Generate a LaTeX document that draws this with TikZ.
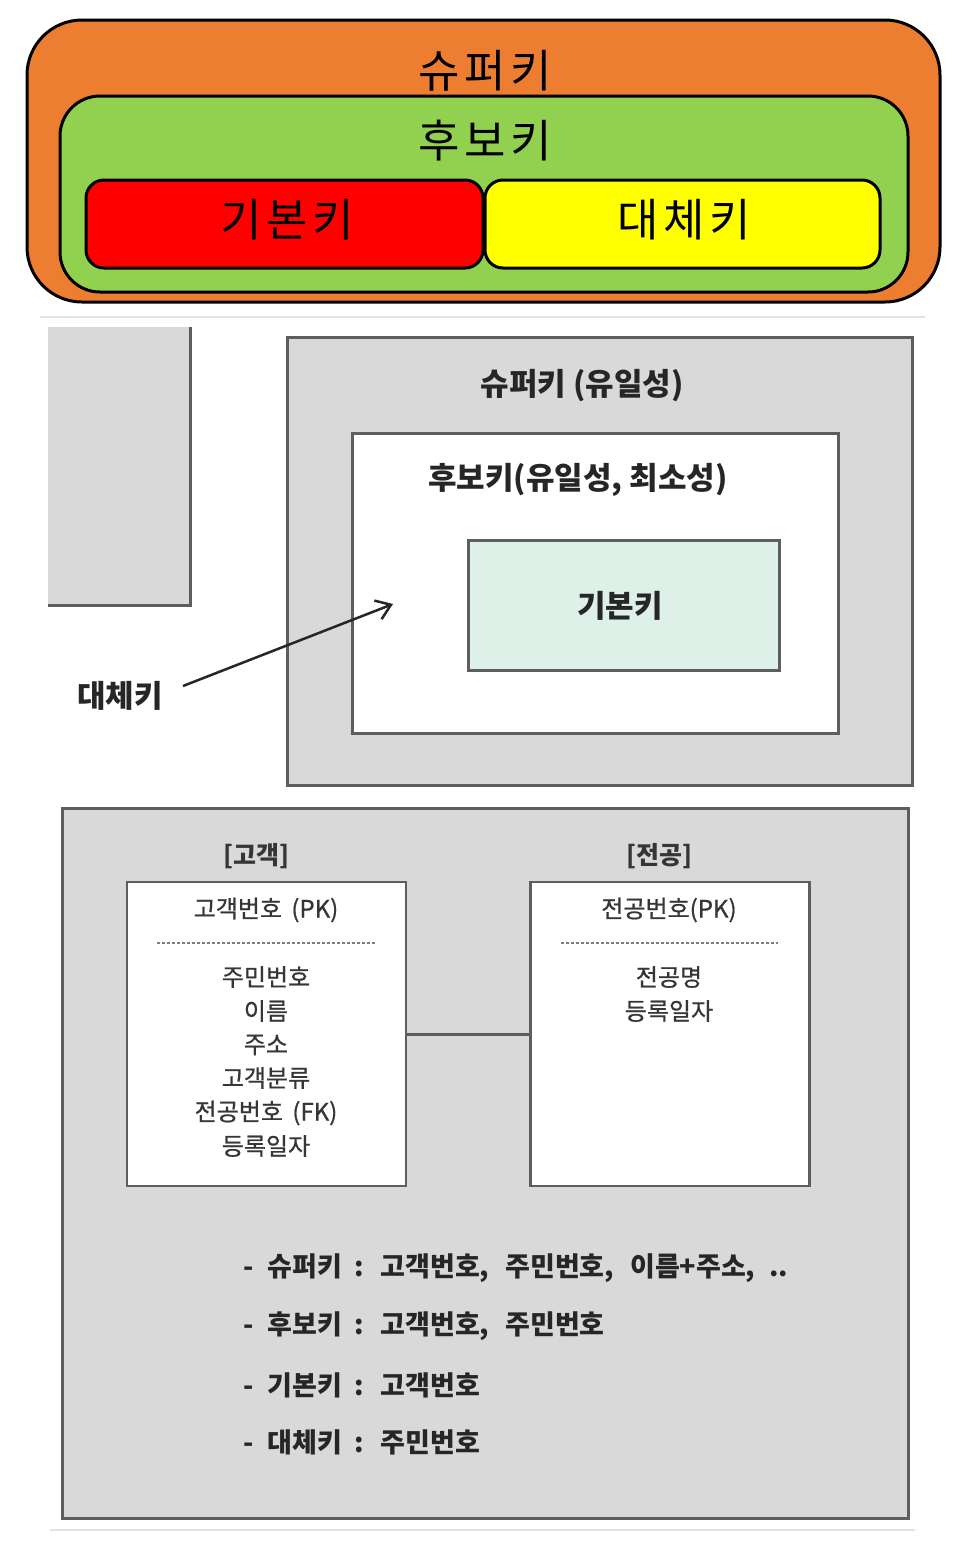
\documentclass[tikz,border=0pt]{standalone}
\usepackage{fontspec}
\setmainfont{Noto Sans CJK KR}
\usetikzlibrary{arrows.meta}
\definecolor{korange}{HTML}{ED7D31}
\definecolor{kgreen}{HTML}{92D050}
\definecolor{kred}{HTML}{FF0000}
\definecolor{kyellow}{HTML}{FFFF00}
\definecolor{kgray}{HTML}{D9D9D9}
\definecolor{kborder}{HTML}{5E5E5E}
\definecolor{kmint}{HTML}{DDF1E8}
\definecolor{ktext}{HTML}{262626}
\definecolor{ktab}{HTML}{363636}
\definecolor{ksep}{HTML}{E2E2E2}
\begin{document}
\begin{tikzpicture}[x=1pt,y=-1pt,
  setbox/.style={draw=black,line width=3pt,inner sep=0pt},
  bigtxt/.style={font=\fontsize{45}{48}\selectfont\addfontfeature{LetterSpace=10},text=black,inner sep=0pt},
  graybox/.style={draw=kborder,line width=3pt,fill=kgray,inner sep=0pt},
  whitebox/.style={draw=kborder,line width=3pt,fill=white,inner sep=0pt},
  midtxt/.style={font=\fontsize{31}{34}\selectfont\bfseries,text=ktext,inner sep=0pt},
  tabbox/.style={draw=kborder,line width=2.5pt,fill=white,inner sep=0pt,minimum width=279pt,minimum height=304pt},
  tabtxt/.style={font=\fontsize{24}{26}\selectfont\addfontfeature{FakeBold=0.8},text=ktab,inner sep=0pt},
  listtxt/.style={font=\fontsize{27}{30}\selectfont\bfseries,text=ktext,inner sep=0pt,anchor=west},
  sepline/.style={draw=ksep,line width=2pt},
  dashsep/.style={draw=kborder!80,line width=2.5pt,dash pattern=on 3pt off 2pt}
]
\useasboundingbox (0,0) rectangle (966,1556);
\fill[white] (0,0) rectangle (966,1556);

% ---------- top set diagram ----------
\node[setbox,fill=korange,rounded corners=55pt,minimum width=913pt,minimum height=282pt] (super) at (483.5,161) {};
\node[setbox,fill=kgreen,rounded corners=40pt,minimum width=848pt,minimum height=196pt] (cand) at (484,194) {};
\node[setbox,fill=kred,rounded corners=18pt,minimum width=397pt,minimum height=88pt] (prim) at (284.5,224) {};
\node[setbox,fill=kyellow,rounded corners=18pt,minimum width=395pt,minimum height=88pt] (alt) at (682.5,224) {};
\node[bigtxt] (tsuper) at (485,71) {슈퍼키};
\node[bigtxt] (tcand) at (485,141) {후보키};
\node[bigtxt] (tprim) at (287,220) {기본키};
\node[bigtxt] (talt) at (684,220) {대체키};

\draw[sepline] (40,317) -- (925,317);

% ---------- middle nested boxes ----------
\fill[kgray] (48,327) rectangle (190,605);
\draw[kborder,line width=3pt] (190,327) -- (190,605) -- (48,605);

\node[graybox,minimum width=625pt,minimum height=448pt] (msuper) at (599.5,561) {};
\node[whitebox,minimum width=486pt,minimum height=300pt] (mcand) at (595,583) {};
\node[draw=kborder,line width=3pt,fill=kmint,inner sep=0pt,minimum width=311pt,minimum height=130pt] (mprim) at (623.5,605) {};
\node[midtxt] (lsuper) at (582,386) {슈퍼키 (유일성)};
\node[midtxt] (lcand) at (578,480) {후보키(유일성, 최소성)};
\node[midtxt] (lprim) at (620,606) {기본키};
\node[midtxt] (lalt) at (120,696) {대체키};
\coordinate (arrs) at (183,686);
\coordinate (arre) at (393,604);
\draw[draw=ktext,line width=2.5pt,-{Straight Barb[length=14pt,width=20pt,line width=2.5pt]}] (arrs) -- (arre);

% ---------- bottom example ----------
\node[graybox,minimum width=846pt,minimum height=710pt] (ex) at (485,1163) {};
\node[tabtxt,font=\fontsize{25}{28}\selectfont\bfseries] (h1) at (256,856) {[고객]};
\node[tabtxt,font=\fontsize{25}{28}\selectfont\bfseries] (h2) at (659,856) {[전공]};
\node[tabbox] (t1) at (266.5,1034) {};
\node[tabbox] (t2) at (670,1034) {};
\draw[kborder,line width=3pt] (t1.east) -- (t2.west);

\node[tabtxt] (c1) at (266,910) {고객번호\hspace{4pt} (PK)};
\draw[dashsep] (157,943) -- (375,943);
\node[tabtxt] (c2) at (266,977) {주민번호};
\node[tabtxt] (c3) at (266,1011) {이름};
\node[tabtxt] (c4) at (266,1045) {주소};
\node[tabtxt] (c5) at (266,1078) {고객분류};
\node[tabtxt] (c6) at (266,1113) {전공번호\hspace{4pt} (FK)};
\node[tabtxt] (c7) at (266,1146) {등록일자};

\node[tabtxt] (m1) at (669,910) {전공번호(PK)};
\draw[dashsep] (561,943) -- (778,943);
\node[tabtxt] (m2) at (669,977) {전공명};
\node[tabtxt] (m3) at (669,1011) {등록일자};

\node[listtxt] (l1) at (243,1268) {-\hspace{14pt}슈퍼키\hspace{12pt}:\hspace{17pt}고객번호,\hspace{16pt}주민번호,\hspace{16pt}이름+주소,\hspace{14pt}..};
\node[listtxt] (l2) at (243,1326) {-\hspace{14pt}후보키\hspace{12pt}:\hspace{17pt}고객번호,\hspace{16pt}주민번호};
\node[listtxt] (l3) at (243,1385) {-\hspace{14pt}기본키\hspace{12pt}:\hspace{17pt}고객번호};
\node[listtxt] (l4) at (243,1442) {-\hspace{14pt}대체키\hspace{12pt}:\hspace{17pt}주민번호};

\draw[sepline] (50,1530) -- (915,1530);
\end{tikzpicture}
\end{document}
